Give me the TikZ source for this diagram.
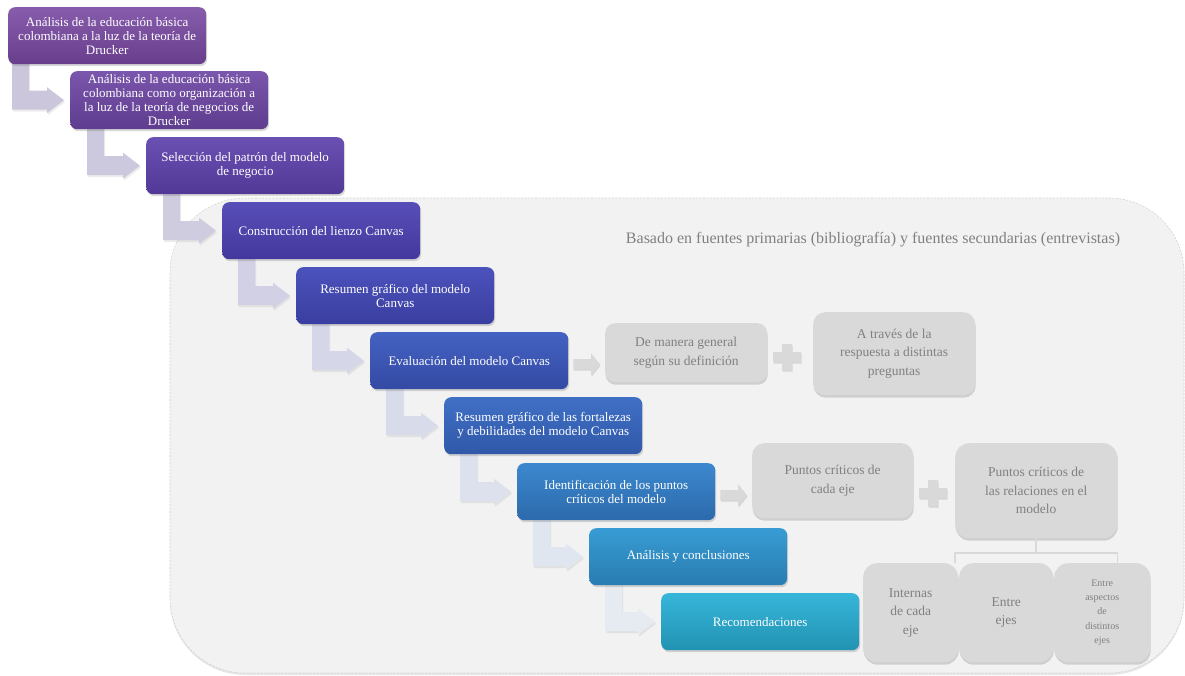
\documentclass[tikz,border=0pt]{standalone}
\usepackage{fontspec}
\setmainfont{Liberation Serif}
\usetikzlibrary{calc,shadows}

\pgfdeclarelayer{fondo}
\pgfdeclarelayer{flechas}
\pgfsetlayers{fondo,flechas,main}

% Colores de los pasos (arriba / abajo)
\definecolor{pasoAa}{RGB}{135,92,172}  \definecolor{pasoAb}{RGB}{104,62,140}
\definecolor{pasoBa}{RGB}{122,86,172}  \definecolor{pasoBb}{RGB}{94,60,142}
\definecolor{pasoCa}{RGB}{106,80,178}  \definecolor{pasoCb}{RGB}{82,56,150}
\definecolor{pasoDa}{RGB}{88,78,184}   \definecolor{pasoDb}{RGB}{66,56,156}
\definecolor{pasoEa}{RGB}{76,82,188}   \definecolor{pasoEb}{RGB}{58,62,160}
\definecolor{pasoFa}{RGB}{68,98,194}   \definecolor{pasoFb}{RGB}{52,74,164}
\definecolor{pasoGa}{RGB}{64,112,198}  \definecolor{pasoGb}{RGB}{48,88,168}
\definecolor{pasoHa}{RGB}{60,136,206}  \definecolor{pasoHb}{RGB}{44,106,172}
\definecolor{pasoIa}{RGB}{56,156,212}  \definecolor{pasoIb}{RGB}{40,124,176}
\definecolor{pasoJa}{RGB}{54,182,218}  \definecolor{pasoJb}{RGB}{34,146,178}
% Colores de las flechas dobladas
\definecolor{codoA}{RGB}{203,198,219}
\definecolor{codoB}{RGB}{204,200,221}
\definecolor{codoC}{RGB}{207,204,224}
\definecolor{codoD}{RGB}{210,208,228}
\definecolor{codoE}{RGB}{213,214,231}
\definecolor{codoF}{RGB}{216,219,233}
\definecolor{codoG}{RGB}{220,225,237}
\definecolor{codoH}{RGB}{224,230,239}
\definecolor{codoI}{RGB}{230,235,241}
\definecolor{grisclaro}{RGB}{217,217,217}
\definecolor{textogris}{RGB}{128,128,128}
\definecolor{fondomarco}{RGB}{242,242,242}

\tikzset{
  paso/.style 2 args={rounded corners=7pt, anchor=north west, minimum width=198pt,
    minimum height=57pt, inner sep=1pt, align=center, text=white,
    font=\fontsize{13}{14}\selectfont, top color=#1, bottom color=#2,
    drop shadow={shadow xshift=1pt, shadow yshift=-2pt, opacity=0.3}},
  gris/.style={rounded corners=10pt, anchor=north west, fill=grisclaro, text=textogris,
    align=center, inner sep=0pt, font=\fontsize{13.5}{18.5}\selectfont,
    drop shadow={shadow xshift=0.5pt, shadow yshift=-2.5pt, opacity=0.3}},
  codosombra/.style={drop shadow={shadow xshift=1pt, shadow yshift=-2pt, opacity=0.15}},
  flechag/.style={fill=grisclaro, drop shadow={shadow xshift=0.5pt, shadow yshift=-1.5pt, opacity=0.25}},
  masg/.style={fill=grisclaro, drop shadow={shadow xshift=0.5pt, shadow yshift=-1.5pt, opacity=0.25}},
  llave/.style={draw=gray!30, line width=1.6pt},
  marco/.style={fill=fondomarco, draw=gray!35, line width=0.6pt, dash pattern=on 2pt off 1.5pt,
    rounded corners=75pt, drop shadow={shadow xshift=0pt, shadow yshift=-2pt, opacity=0.2}}
}

% flecha doblada entre dos pasos: desde, hacia, color, desplazamiento
\newcommand{\bendarrow}[4]{%
  \path ($(#1.south west)+(#4,-2)$) coordinate (ca) (#2.west) coordinate (cb);
  \fill[#3, codosombra] (ca) -- ++(17,0) |- ($(cb)+(-23,-9.5)$) -- ++(0,-3.5)
    -- ($(cb)+(-6,0)$) -- ($(cb)+(-23,13)$) -- ++(0,-3.5) -| (ca) -- cycle;
}
% flecha gris recta
\newcommand{\flechagris}[2]{%
  \path ($(#1.east)+(5,3.5)$) coordinate (fs) (#2.west |- fs) coordinate (ft);
  \fill[flechag] ($(fs)+(0,-5)$) -- ($(ft)+(-14,-5)$) -- ($(ft)+(-14,-11)$) -- ($(ft)+(-5,0)$)
    -- ($(ft)+(-14,11)$) -- ($(ft)+(-14,5)$) -- ($(fs)+(0,5)$) -- cycle;
}
% signo mas
\newcommand{\masgris}[1]{%
  \fill[masg, shift={(#1)}] (-5,-13) -- (5,-13) -- (5,-5) -- (14,-5) -- (14,5) -- (5,5)
    -- (5,13) -- (-5,13) -- (-5,5) -- (-14,5) -- (-14,-5) -- (-5,-5) -- cycle;
}

\begin{document}
\begin{tikzpicture}[x=1pt, y=-1pt, line join=round]
  \useasboundingbox (0,0) rectangle (1185,675);

  % Marco gris del fondo
  \begin{pgfonlayer}{fondo}
    \draw[marco] (170,198) rectangle (1184,673);
  \end{pgfonlayer}
  \node[text=textogris, font=\fontsize{16}{18}\selectfont] (base) at (873,240)
    {Basado en fuentes primarias (bibliografía) y fuentes secundarias (entrevistas)};

  % Pasos del proceso
  \node[paso={pasoAa}{pasoAb}] (p1) at (8,7)
    {Análisis de la educación básica\\colombiana a la luz de la teoría de\\Drucker};
  \node[paso={pasoBa}{pasoBb}, minimum height=58pt] (p2) at (70,71)
    {Análisis de la educación básica\\colombiana como organización a\\la luz de la teoría de negocios de\\Drucker};
  \node[paso={pasoCa}{pasoCb}] (p3) at (146,137) {Selección del patrón del modelo\\de negocio};
  \node[paso={pasoDa}{pasoDb}] (p4) at (222,202) {Construcción del lienzo Canvas};
  \node[paso={pasoEa}{pasoEb}] (p5) at (296,267) {Resumen gráfico del modelo\\Canvas};
  \node[paso={pasoFa}{pasoFb}] (p6) at (370,332) {Evaluación del modelo Canvas};
  \node[paso={pasoGa}{pasoGb}] (p7) at (444,397)
    {Resumen gráfico de las fortalezas\\y debilidades del modelo Canvas};
  \node[paso={pasoHa}{pasoHb}] (p8) at (517,463) {Identificación de los puntos\\críticos del modelo};
  \node[paso={pasoIa}{pasoIb}] (p9) at (589,528) {Análisis y conclusiones};
  \node[paso={pasoJa}{pasoJb}] (p10) at (661,593) {Recomendaciones};

  % Flechas dobladas
  \begin{pgfonlayer}{flechas}
    \bendarrow{p1}{p2}{codoA}{4}
    \bendarrow{p2}{p3}{codoB}{17}
    \bendarrow{p3}{p4}{codoC}{17}
    \bendarrow{p4}{p5}{codoD}{16}
    \bendarrow{p5}{p6}{codoE}{16}
    \bendarrow{p6}{p7}{codoF}{16}
    \bendarrow{p7}{p8}{codoG}{16}
    \bendarrow{p8}{p9}{codoH}{16}
    \bendarrow{p9}{p10}{codoI}{16}
  \end{pgfonlayer}

  % Evaluacion
  \node[gris, minimum width=162pt, minimum height=59pt] (g1) at (605,323)
    {De manera general\\según su definición};
  \node[gris, rounded corners=12pt, minimum width=162pt, minimum height=83pt] (g2) at (813,312)
    {A través de la\\respuesta a distintas\\preguntas};
  \flechagris{p6}{g1}
  \coordinate (mas1) at (787,357);
  \masgris{mas1}

  % Puntos criticos
  \node[gris, rounded corners=12pt, minimum width=161pt, minimum height=75pt] (g3) at (752,443)
    {Puntos críticos de\\cada eje};
  \node[gris, rounded corners=14pt, minimum width=162pt, minimum height=95pt] (g4) at (955,443)
    {Puntos críticos de\\las relaciones en el\\modelo};
  \flechagris{p8}{g3}
  \coordinate (mas2) at (933,493);
  \masgris{mas2}

  \node[gris, rounded corners=14pt, minimum width=95pt, minimum height=99pt] (s1) at (863,563)
    {Internas\\de cada\\eje};
  \node[gris, rounded corners=14pt, minimum width=94pt, minimum height=99pt] (s2) at (959,563)
    {Entre\\ejes};
  \node[gris, rounded corners=14pt, minimum width=96pt, minimum height=99pt,
    font=\fontsize{10}{14.2}\selectfont] (s3) at (1054,563)
    {Entre\\aspectos\\de\\distintos\\ejes};

  \draw[llave] (g4.south) -- ++(0,15);
  \draw[llave] (g4.west |- s1.north) -- ++(0,-10) -| (g4.east |- s1.north);
\end{tikzpicture}
\end{document}
